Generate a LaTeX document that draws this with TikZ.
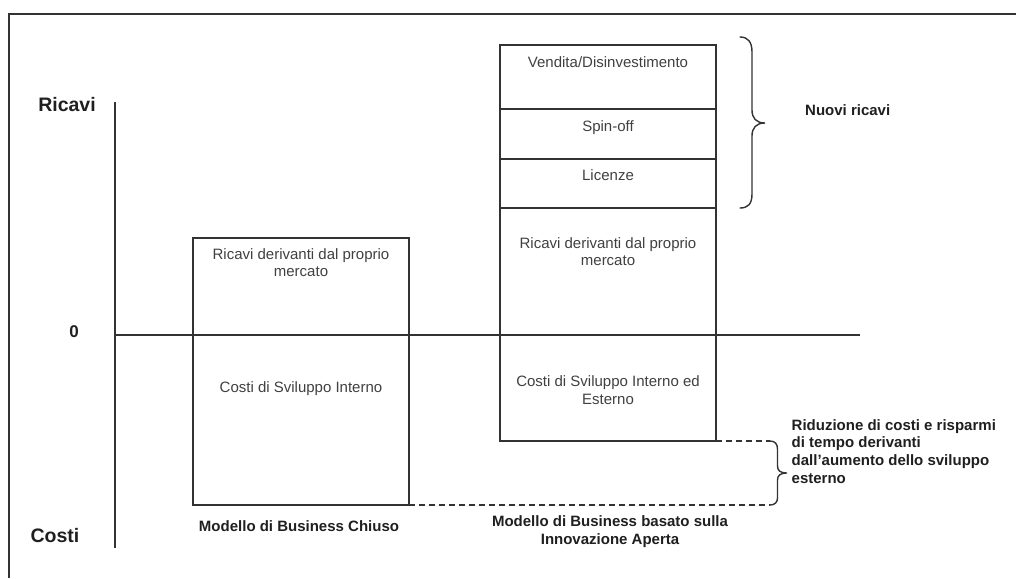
\documentclass[tikz,border=0pt]{standalone}
\usepackage{fontspec}
\setmainfont{Liberation Sans}
\begin{document}
\begin{tikzpicture}[x=1pt,y=-1pt,
  line/.style={draw=black!80, line width=1.4pt},
  boxstyle/.style={rectangle, draw=black!80, line width=1.4pt, inner sep=0pt, outer sep=0pt, anchor=north west},
  txt/.style={font=\fontsize{15}{17.8}\selectfont, text=black!75, inner sep=0pt, align=center},
  btxt/.style={font=\fontsize{15}{17.8}\selectfont\bfseries, text=black!88, inner sep=0pt},
  axlab/.style={font=\fontsize{19.5}{22}\selectfont\bfseries, text=black!88, inner sep=0pt, anchor=base},
  dashline/.style={line, dash pattern=on 6pt off 4pt},
  bracestyle/.style={draw=black!80, line width=1.4pt, line cap=round}
]
\useasboundingbox (0,0) rectangle (1016,578);
% frame
\coordinate (f1) at (9,578);
\coordinate (f2) at (9,14);
\coordinate (f3) at (1016,14);
\draw[line] (f1) -- (f2) -- (f3);
% boxes
\node[boxstyle, minimum width=216pt, minimum height=267pt] (closed) at (193,238) {};
\node[boxstyle, minimum width=216pt, minimum height=64pt] (vend) at (500,45) {};
\node[boxstyle, minimum width=216pt, minimum height=50pt] (spin) at (500,109) {};
\node[boxstyle, minimum width=216pt, minimum height=49pt] (lic) at (500,159) {};
\node[boxstyle, minimum width=216pt, minimum height=233pt] (main) at (500,208) {};
% axes
\coordinate (axt) at (115,102);
\coordinate (axb) at (115,548);
\coordinate (zs) at (115,335);
\coordinate (ze) at (860,335);
\draw[line] (axt) -- (axb);
\draw[line] (zs) -- (ze);
% axis labels
\node[axlab] (ric) at (67,111) {Ricavi};
\node[axlab, font=\fontsize{17}{20}\selectfont\bfseries] (zero) at (74,337) {0};
\node[axlab] (cos) at (55,542) {Costi};
% box texts
\node[txt, anchor=north] (lr) at (301,248) {Ricavi derivanti dal proprio\\mercato};
\node[txt, anchor=base] (lc) at (301,392.5) {Costi di Sviluppo Interno};
\node[txt, anchor=base] (v) at (608,67) {Vendita/Disinvestimento};
\node[txt, anchor=base] (s) at (608,131.5) {Spin-off};
\node[txt, anchor=base] (l) at (608,180) {Licenze};
\node[txt, anchor=north] (rr) at (608,237) {Ricavi derivanti dal proprio\\mercato};
\node[txt, anchor=north] (rc) at (608,375.5) {Costi di Sviluppo Interno ed\\Esterno};
% bottom labels
\node[btxt, anchor=base] (m1) at (299,531) {Modello di Business Chiuso};
\node[btxt, align=center, anchor=north] (m2) at (610,515.5) {Modello di Business basato sulla\\Innovazione Aperta};
% right labels
\node[btxt, anchor=base west] (nr) at (805,115) {Nuovi ricavi};
\node[btxt, align=left, anchor=north west] (rid) at (791.5,419) {Riduzione di costi e risparmi\\di tempo derivanti\\dall’aumento dello sviluppo\\esterno};
% upper brace
\coordinate (b1t) at (740,37);
\coordinate (b1b) at (740,208);
\draw[bracestyle] (b1t) .. controls (748,37) and (752,42) .. (752,52) -- (752,110)
  .. controls (752,118) and (756,123) .. (765,123)
  .. controls (756,123) and (752,128) .. (752,136) -- (752,194)
  .. controls (752,204) and (748,208) .. (b1b);
% dashed lines and lower brace
\coordinate (b2t) at (770,441);
\coordinate (b2b) at (770,505);
\draw[dashline] (main.south east) -- (b2t);
\draw[dashline] (closed.south east) -- (b2b);
\draw[bracestyle] (b2t) .. controls (775,441) and (777.5,444) .. (777.5,449) -- (777.5,466)
  .. controls (777.5,470.5) and (780,473) .. (787,473)
  .. controls (780,473) and (777.5,475.5) .. (777.5,480) -- (777.5,498)
  .. controls (777.5,502) and (775,505) .. (b2b);
\end{tikzpicture}
\end{document}
